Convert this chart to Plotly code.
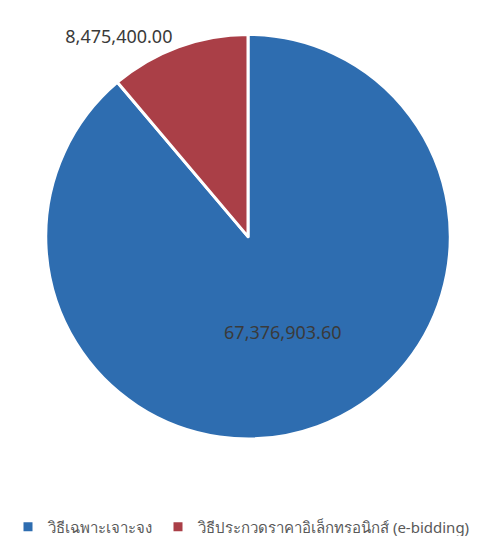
import plotly.graph_objects as go

labels = ["วิธีเฉพาะเจาะจง", "วิธีประกวดราคาอิเล็กทรอนิกส์ (e-bidding)"]
values = [67376903.60, 8475400.00]
text_labels = ["67,376,903.60", "8,475,400.00"]
colors = ["#2E6DB0", "#AA3F47"]

W, H = 488, 536

fig = go.Figure(go.Pie(
    labels=labels,
    values=values,
    text=text_labels,
    texttemplate="%{text}",
    textposition=["inside", "outside"],
    insidetextorientation="horizontal",
    sort=False,
    direction="clockwise",
    rotation=0,
    marker=dict(colors=colors, line=dict(color="white", width=3)),
    textfont=dict(family="Noto Sans", size=18, color="#3a3a3a"),
    insidetextfont=dict(family="Noto Sans", size=18, color="#3a3a3a"),
    outsidetextfont=dict(family="Noto Sans", size=18, color="#3a3a3a"),
    domain=dict(x=[37 / W, 443 / W], y=[1 - 432.5 / H, 1 - 26.5 / H]),
    hoverinfo="label+value",
))

fig.update_layout(
    width=W, height=H,
    margin=dict(l=0, r=0, t=0, b=0),
    paper_bgcolor="white",
    showlegend=True,
    legend=dict(
        orientation="h",
        x=0.0, xanchor="left",
        y=1 - 521 / H, yanchor="middle",
        font=dict(family="Noto Sans", size=15, color="#595959"),
        itemwidth=30,
    ),
)

fig.write_html("out.html")
